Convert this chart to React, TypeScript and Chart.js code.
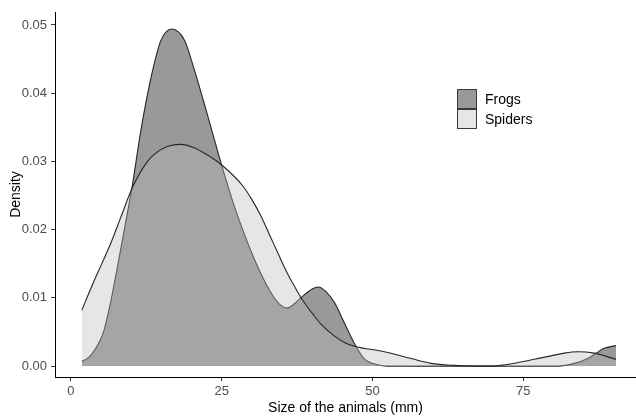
import React, { useEffect, useRef } from "react";
import { Chart, registerables } from "chart.js";

Chart.register(...registerables);

const seriesNames = ["Frogs", "Spiders"];

const frogX = [1.8, 3.0, 3.9, 4.8, 5.5, 6.6, 7.7, 8.8, 10.2, 11.6, 13.3, 14.9, 16.7, 18.8, 20.4, 22.7, 24.9, 27.1, 30.4, 33.2, 34.8, 35.9, 37.0, 38.1, 40.0, 41.0, 42.2, 43.7, 45.3, 47.0, 48.6, 50.9, 52.5, 60, 70, 80.7, 83.5, 85.7, 87.1, 88.4, 90.4];
const frogY = [0.0007, 0.0013, 0.0023, 0.0037, 0.0053, 0.0095, 0.0145, 0.0198, 0.0266, 0.0346, 0.0424, 0.0477, 0.0494, 0.0478, 0.0436, 0.0366, 0.0297, 0.0234, 0.0157, 0.0107, 0.0089, 0.0085, 0.0091, 0.0100, 0.0113, 0.0116, 0.0110, 0.0093, 0.0064, 0.0033, 0.0011, 0.0002, 0, 0, 0, 0, 0.0004, 0.0011, 0.0019, 0.0026, 0.003];

const spiderX = [1.8, 3.4, 5.0, 6.6, 8.3, 10.2, 12.7, 14.5, 16.0, 18.2, 20.4, 22.5, 25.1, 28.5, 30.0, 31.5, 33.0, 34.5, 36.0, 37.0, 38.1, 40.3, 41.5, 43.7, 45.5, 47.0, 52.0, 56.4, 59.7, 63.5, 67.0, 70.0, 72.0, 74.0, 76.8, 79.6, 81.8, 84.0, 86.8, 88.5, 90.4];
const spiderY = [0.0082, 0.0116, 0.0148, 0.0180, 0.0219, 0.0262, 0.0300, 0.0315, 0.0322, 0.0325, 0.0320, 0.0310, 0.0294, 0.0264, 0.0244, 0.0220, 0.0191, 0.0162, 0.0134, 0.0118, 0.0101, 0.0074, 0.0061, 0.0044, 0.0034, 0.0029, 0.0021, 0.0011, 0.0004, 0.0001, 0, 0, 0.0002, 0.0005, 0.0010, 0.0015, 0.0019, 0.0021, 0.0019, 0.0015, 0.0010];

const xTicks = [0, 25, 50, 75];
const yTicks = [0, 0.01, 0.02, 0.03, 0.04, 0.05];

const xTitle = "Size of the animals (mm)";
const yTitle = "Density";

const FONT = "'Liberation Sans', Arial, Helvetica, sans-serif";

export default function App() {
  const canvasRef = useRef<HTMLCanvasElement | null>(null);

  useEffect(() => {
    const canvas = canvasRef.current;
    if (!canvas) return;
    Chart.defaults.font.family = FONT;
    const chart = new Chart(canvas, {
      type: "line",
      data: {
        datasets: [
          {
            label: seriesNames[0],
            data: frogX.map((x, i) => ({ x, y: frogY[i] })),
            borderColor: "#262626",
            borderWidth: 1.1,
            backgroundColor: "#999999",
            fill: { value: 0 },
            pointRadius: 0,
            cubicInterpolationMode: "monotone",
            order: 2,
          },
          {
            label: seriesNames[1],
            data: spiderX.map((x, i) => ({ x, y: spiderY[i] })),
            borderColor: "#262626",
            borderWidth: 1.1,
            backgroundColor: "rgba(187,187,187,0.37)",
            fill: { value: 0 },
            pointRadius: 0,
            cubicInterpolationMode: "monotone",
            order: 1,
          },
        ],
      },
      options: {
        responsive: false,
        maintainAspectRatio: false,
        animation: false,
        layout: { padding: 0 },
        plugins: {
          legend: { display: false },
          tooltip: { enabled: false },
        },
        scales: {
          x: {
            type: "linear",
            min: -2.65,
            max: 93.7,
            afterBuildTicks: (s: any) => {
              s.ticks = xTicks.map((v) => ({ value: v }));
            },
            afterFit: (s: any) => {
              s.height = 41;
              s.paddingLeft = 0;
              s.paddingRight = 0;
            },
            ticks: {
              font: { size: 13, family: FONT },
              color: "#4d4d4d",
              padding: 3,
              maxRotation: 0,
              autoSkip: false,
              callback: (v: any) => String(v),
            },
            grid: {
              display: true,
              drawOnChartArea: false,
              drawTicks: true,
              tickLength: 4,
              color: "#333333",
            },
            border: { display: true, color: "#000000", width: 1 },
            title: {
              display: true,
              text: xTitle,
              color: "#000000",
              font: { size: 14, family: FONT },
              padding: { top: 0, bottom: 1 },
            },
          },
          y: {
            type: "linear",
            min: -0.0016,
            max: 0.0519,
            afterBuildTicks: (s: any) => {
              s.ticks = yTicks.map((v) => ({ value: v }));
            },
            afterFit: (s: any) => {
              s.width = 55;
              s.paddingTop = 12;
              s.paddingBottom = 0;
            },
            ticks: {
              font: { size: 13, family: FONT },
              color: "#4d4d4d",
              padding: 4,
              autoSkip: false,
              callback: (v: any) => Number(v).toFixed(2),
            },
            grid: {
              display: true,
              drawOnChartArea: false,
              drawTicks: true,
              tickLength: 4,
              color: "#333333",
            },
            border: { display: true, color: "#000000", width: 1 },
            title: {
              display: true,
              text: yTitle,
              color: "#000000",
              font: { size: 14, family: FONT },
              padding: { top: 8, bottom: 0 },
            },
          },
        },
      },
    });
    return () => chart.destroy();
  }, []);

  const swatch = (bg: string, top: number) => (
    <div
      style={{
        position: "absolute",
        left: 457,
        top,
        width: 20,
        height: 20,
        boxSizing: "border-box",
        border: "1px solid #3a3a3a",
        background: bg,
      }}
    />
  );
  const label = (text: string, top: number) => (
    <div
      style={{
        position: "absolute",
        left: 485,
        top,
        height: 20,
        lineHeight: "20px",
        fontFamily: FONT,
        fontSize: 14,
        color: "#000",
        whiteSpace: "nowrap",
      }}
    >
      {text}
    </div>
  );

  return (
    <div style={{ position: "absolute", left: 0, top: 0, width: 636, height: 418, background: "#fff", overflow: "hidden" }}>
      <canvas ref={canvasRef} width={636} height={418} style={{ display: "block", width: 636, height: 418 }} />
      {swatch("#999999", 89)}
      {swatch("#e6e6e6", 109)}
      {label(seriesNames[0], 89)}
      {label(seriesNames[1], 109)}
    </div>
  );
}
